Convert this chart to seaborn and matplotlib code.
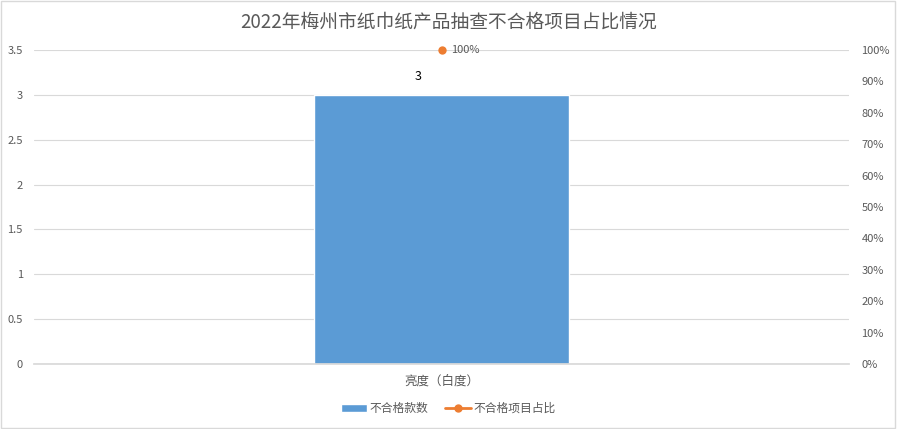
import matplotlib
matplotlib.use("Agg")
import matplotlib.pyplot as plt
import seaborn as sns
import pandas as pd
from matplotlib.lines import Line2D
from matplotlib.patches import Patch

categories = ["亮度（白度）"]
counts = [3]
ratios = [1.0]
title = "2022年梅州市纸巾纸产品抽查不合格项目占比情况"
series_names = ["不合格款数", "不合格项目占比"]

sns.set_theme(style="white")
plt.rcParams['font.family'] = ['Noto Sans CJK SC', 'DejaVu Sans']

blue = "#5B9BD5"
orange = "#ED7D31"
textc = "#595959"

fig = plt.figure(figsize=(8.97, 4.29), dpi=100)
ax = fig.add_axes([0.0379, 0.1515, 0.9086, 0.732])
df = pd.DataFrame({"cat": categories, "count": counts, "ratio": ratios})
sns.barplot(data=df, x="cat", y="count", color=blue, width=0.313, ax=ax, saturation=1)
ax.set_xlim(-0.5, 0.5)
ax.set_ylim(0, 3.5)
ax.set_yticks([0, 0.5, 1, 1.5, 2, 2.5, 3, 3.5])
ax.set_yticklabels(["0", "0.5", "1", "1.5", "2", "2.5", "3", "3.5"])
ax.grid(axis="y", color="#D9D9D9", linewidth=0.8)
ax.set_axisbelow(True)
for s in ["top", "right", "left"]:
    ax.spines[s].set_visible(False)
ax.spines["bottom"].set_color("#D9D9D9")
ax.set_xlabel("")
ax.set_ylabel("")
ax.tick_params(axis="y", labelsize=8, colors=textc, length=0, pad=8)
ax.tick_params(axis="x", labelsize=9, colors=textc, length=0, pad=8)
for i, v in enumerate(counts):
    ax.annotate(str(v), (i, v), xytext=(-17, 13), textcoords="offset points",
                ha="center", va="center", fontsize=9, color="black")

ax2 = ax.twinx()
ax2.set_ylim(0, 1.0)
sns.lineplot(x=list(range(len(categories))), y=ratios, ax=ax2, color=orange,
             marker="o", markersize=6, markeredgewidth=0, linewidth=2, clip_on=False)
ax2.set_yticks([i / 10 for i in range(11)])
ax2.set_yticklabels([f"{i*10}%" for i in range(11)])
ax2.tick_params(axis="y", labelsize=8, colors=textc, length=0, pad=9)
for s in ["top", "right", "left", "bottom"]:
    ax2.spines[s].set_visible(False)
ax2.set_ylabel("")
ax2.set_xlim(-0.5, 0.5)
for i, r in enumerate(ratios):
    ax2.annotate(f"{r*100:.0f}%", (i, r), xytext=(7, 0), textcoords="offset points",
                 ha="left", va="center", fontsize=8, color=textc, annotation_clip=False)

fig.text(0.5, 0.948, title, ha="center", va="center", fontsize=13.5, color=textc)

handles = [Patch(facecolor=blue, label=series_names[0]),
           Line2D([0], [0], color=orange, marker="o", markersize=5, linewidth=2, label=series_names[1])]
fig.legend(handles=handles, loc="center", bbox_to_anchor=(0.5, 0.048), ncol=2, frameon=False,
           fontsize=8.5, labelcolor=textc, handlelength=2.2, columnspacing=1.4, handletextpad=0.2)

border = plt.Rectangle((0.001, 0.002), 0.997, 0.995, transform=fig.transFigure, fill=False,
                       edgecolor="#D9D9D9", linewidth=1)
fig.patches.append(border)

fig.savefig("out.png", dpi=100)
